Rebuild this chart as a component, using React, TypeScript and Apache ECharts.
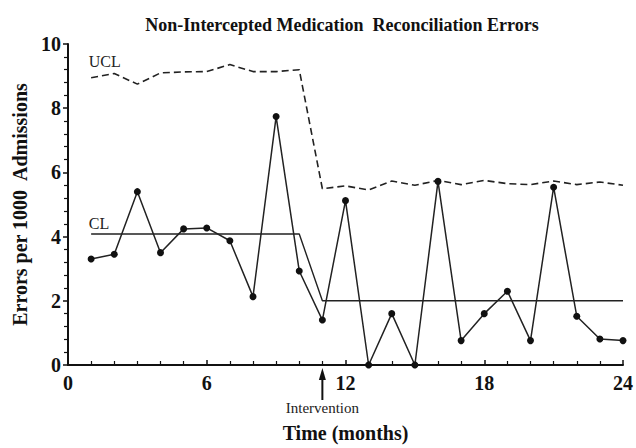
import React, { useEffect, useRef } from "react";
import * as echarts from "echarts";

const months = [1, 2, 3, 4, 5, 6, 7, 8, 9, 10, 11, 12, 13, 14, 15, 16, 17, 18, 19, 20, 21, 22, 23, 24];
const errors = [3.3, 3.45, 5.4, 3.5, 4.24, 4.27, 3.87, 2.13, 7.74, 2.93, 1.4, 5.12, 0, 1.6, 0, 5.72, 0.76, 1.6, 2.3, 0.76, 5.54, 1.52, 0.81, 0.76];
const ucl = [8.95, 9.08, 8.75, 9.1, 9.13, 9.14, 9.36, 9.14, 9.14, 9.2, 5.49, 5.58, 5.45, 5.73, 5.6, 5.75, 5.62, 5.75, 5.65, 5.62, 5.73, 5.62, 5.7, 5.6];
const cl = [4.08, 4.08, 4.08, 4.08, 4.08, 4.08, 4.08, 4.08, 4.08, 4.08, 2.0, 2.0, 2.0, 2.0, 2.0, 2.0, 2.0, 2.0, 2.0, 2.0, 2.0, 2.0, 2.0, 2.0];
const xTicks = { min: 0, max: 24, interval: 6 };
const yTicks = { min: 0, max: 10, interval: 2 };
const interventionMonth = 11;
const title = "Non-Intercepted Medication  Reconciliation Errors";
const xName = "Time (months)";
const yName = "Errors per 1000  Admissions";

const SERIF = "'Liberation Serif', 'Times New Roman', serif";

export default function App() {
  const ref = useRef<HTMLDivElement>(null);
  useEffect(() => {
    if (!ref.current) return;
    document.body.style.margin = "0";
    const chart = echarts.init(ref.current, undefined, { renderer: "svg", width: 636, height: 448 });
    const pair = (arr: number[]) => months.map((m, i) => [m, arr[i]]);
    chart.setOption({
      animation: false,
      backgroundColor: "#fff",
      title: {
        text: title,
        left: 337,
        textAlign: "center",
        top: 11,
        textStyle: { fontFamily: SERIF, fontSize: 18, fontWeight: "bold", color: "#111" },
      },
      grid: { left: 68, right: 12, top: 44, bottom: 76 },
      xAxis: {
        type: "value",
        min: xTicks.min,
        max: xTicks.max,
        interval: xTicks.interval,
        name: xName,
        nameLocation: "middle",
        nameGap: 58,
        nameTextStyle: { fontFamily: SERIF, fontSize: 20, fontWeight: "bold", color: "#111" },
        axisLine: { lineStyle: { color: "#111", width: 2 } },
        axisTick: { inside: true, length: 5, lineStyle: { color: "#111", width: 1.5 } },
        minorTick: { show: true, splitNumber: 6, length: 4, lineStyle: { color: "#111", width: 1.2 } },
        axisLabel: { fontFamily: SERIF, fontSize: 20, fontWeight: "bold", color: "#111", margin: 8 },
        splitLine: { show: false },
      },
      yAxis: {
        type: "value",
        min: yTicks.min,
        max: yTicks.max,
        interval: yTicks.interval,
        name: yName,
        nameLocation: "middle",
        nameGap: 36,
        nameRotate: 90,
        nameTextStyle: { fontFamily: SERIF, fontSize: 20, fontWeight: "bold", color: "#111" },
        axisLine: { show: true, lineStyle: { color: "#111", width: 2 } },
        axisTick: { show: true, inside: false, length: 5, lineStyle: { color: "#111", width: 1.5 } },
        minorTick: { show: true, splitNumber: 5, length: 4, lineStyle: { color: "#111", width: 1.2 } },
        axisLabel: { fontFamily: SERIF, fontSize: 20, fontWeight: "bold", color: "#111", margin: 7 },
        splitLine: { show: false },
      },
      series: [
        {
          name: "UCL",
          type: "line",
          data: pair(ucl),
          showSymbol: false,
          symbol: "none",
          lineStyle: { color: "#222", width: 1.6, type: [7, 4] },
        },
        {
          name: "CL",
          type: "line",
          data: pair(cl),
          symbol: "none",
          lineStyle: { color: "#222", width: 1.4 },
        },
        {
          name: "Errors",
          type: "line",
          data: pair(errors),
          symbol: "circle",
          symbolSize: 7,
          itemStyle: { color: "#111" },
          lineStyle: { color: "#222", width: 1.5 },
        },
      ],
    });

    const conv = (pt: number[]) => chart.convertToPixel({ xAxisIndex: 0, yAxisIndex: 0 }, pt) as number[];
    const p = conv([interventionMonth, 0]);
    const uclPos = conv([0.9, 9.47]);
    const clPos = conv([0.9, 4.4]);
    chart.setOption({
      graphic: [
        {
          type: "text",
          x: uclPos[0],
          y: uclPos[1],
          style: { text: "UCL", fontFamily: SERIF, fontSize: 16, fill: "#222", verticalAlign: "middle", align: "left" },
        },
        {
          type: "text",
          x: clPos[0],
          y: clPos[1],
          style: { text: "CL", fontFamily: SERIF, fontSize: 16, fill: "#222", verticalAlign: "middle", align: "left" },
        },
        {
          type: "line",
          shape: { x1: p[0], y1: p[1] + 35, x2: p[0], y2: p[1] + 12 },
          style: { stroke: "#111", lineWidth: 2 },
        },
        {
          type: "polygon",
          shape: { points: [[p[0], p[1] + 3], [p[0] - 3.5, p[1] + 15], [p[0] + 3.5, p[1] + 15]] },
          style: { fill: "#111" },
        },
        {
          type: "text",
          x: p[0],
          y: p[1] + 43,
          style: { text: "Intervention", fontFamily: SERIF, fontSize: 15, fill: "#222", align: "center", verticalAlign: "middle" },
        },
      ],
    });
    return () => chart.dispose();
  }, []);
  return <div ref={ref} style={{ width: 636, height: 448 }} />;
}
